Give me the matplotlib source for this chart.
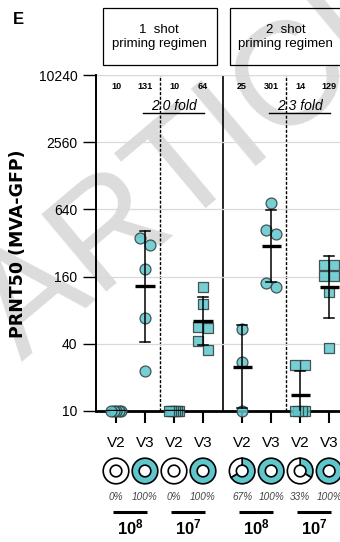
import numpy as np
import matplotlib
matplotlib.use('Agg')
import matplotlib.pyplot as plt
from matplotlib.patches import Wedge, Rectangle

plt.rcParams['font.family'] = ['Liberation Sans', 'DejaVu Sans']
plt.rcParams['mathtext.fontset'] = 'custom'
plt.rcParams['mathtext.rm'] = 'Liberation Sans'
plt.rcParams['mathtext.bf'] = 'Liberation Sans:bold'

# PRNT50 titers per group (V2 and V3 for each regimen / dose)
timepoints = ['V2', 'V3', 'V2', 'V3', 'V2', 'V3', 'V2', 'V3']
titers = [
    [10, 10, 10, 10, 10],
    [355, 306, 188, 68, 23],
    [10, 10, 10, 10, 10, 10],
    [129, 91, 57, 55, 42, 35],
    [54, 27.5, 10],
    [728, 417, 385, 140, 129],
    [26, 26, 10, 10, 10, 10],
    [203, 203, 162, 162, 116, 37],
]
gmt = [10, 131, 10, 64, 25, 301, 14, 129]
regimens = ['1  shot\npriming regimen', '2  shot\npriming regimen']
doses = ['10^{8}', '10^{7}', '10^{8}', '10^{7}']
yticks = [10, 40, 160, 640, 2560, 10240]
lod = 10

fill = '#5fc6cc'
edge = '#2f3b3c'

pos = np.array([0, 1, 2, 3, 4.35, 5.35, 6.35, 7.35])
markers = ['o', 'o', 's', 's', 'o', 'o', 's', 's']
px_per_x = 29.0            # pixels per x unit
px_per_log2 = 67.2 / 2     # pixels per doubling

fig = plt.figure(figsize=(3.4, 5.42), dpi=100)
ax = fig.add_axes([96/340, 1-411/542, (340-96)/340, (411-75)/542])

# light gray watermark behind everything
fig.text(22/340, 1-362/542, 'ARTICLE IN PRESS', rotation=40, rotation_mode='anchor',
         ha='left', va='baseline', fontsize=106, color='#dcdcdc', zorder=-10)
ax.patch.set_alpha(0)


def swarm(vals):
    # spread points that would overlap into rows centred on the column
    order = np.argsort(vals)[::-1]
    v = np.array(vals, float)[order]
    y = np.log2(v) * px_per_log2
    rows, cur = [], [0]
    for i in range(1, len(v)):
        if abs(y[i] - y[cur[-1]]) < 10:
            cur.append(i)
        else:
            rows.append(cur)
            cur = [i]
    rows.append(cur)
    off = np.zeros(len(v))
    for r in rows:
        n = len(r)
        if n == 1:
            continue
        if v[r[0]] <= lod:
            step = 10.0 / (n - 1)
        else:
            step = 10.0
        for k, i in enumerate(r):
            off[i] = (k - (n - 1) / 2) * step
    return v, off / px_per_x


for i, vals in enumerate(titers):
    v, dx = swarm(vals)
    ax.scatter(pos[i] + dx[::-1], v[::-1], s=62, marker=markers[i], facecolor=fill,
               edgecolor=edge, linewidth=0.9, alpha=0.85, zorder=4, clip_on=False)
    lv = np.log(vals)
    gsd = np.exp(lv.std(ddof=1))
    g = gmt[i]
    if gsd > 1.001:
        ax.plot([pos[i], pos[i]], [g / gsd, g * gsd], color='black', lw=1.1, zorder=5)
        for e in (g / gsd, g * gsd):
            ax.plot([pos[i] - 0.18, pos[i] + 0.18], [e, e], color='black', lw=1.1, zorder=5)
    ax.plot([pos[i] - 0.33, pos[i] + 0.33], [g, g], color='black', lw=2.4, zorder=6,
            solid_capstyle='butt')

ax.set_yscale('log')
ax.set_ylim(10, 10240)
ax.set_xlim(pos[0] - 20/px_per_x, pos[0] + (340-116)/px_per_x)
ax.set_yticks(yticks)
ax.set_yticklabels([str(t) for t in yticks], fontsize=10)
ax.yaxis.set_minor_locator(matplotlib.ticker.NullLocator())
ax.tick_params(axis='y', length=9.5, width=1.0, pad=4)
ax.set_xticks(pos)
ax.set_xticklabels(timepoints, fontsize=11)
ax.tick_params(axis='x', length=8.5, width=1.5, pad=9.5)
for s in ['top', 'right']:
    ax.spines[s].set_visible(False)
ax.spines['left'].set_linewidth(1.4)
ax.spines['bottom'].set_linewidth(2.0)
ax.grid(axis='y', color='#d9d9d9', lw=0.9, zorder=0)
ax.axhline(10240, color='#d9d9d9', lw=0.9, zorder=0)
ax.set_ylabel('PRNT50 (MVA-GFP)', fontsize=12.5, fontweight='bold',
              family='DejaVu Sans')
ax.yaxis.set_label_coords(-0.283, 0.497)

# group separators
sep_solid = (pos[3] + pos[4]) / 2
ax.axvline(sep_solid, color='black', lw=1.2, zorder=1)
for a, b in [(1, 2), (5, 6)]:
    ax.axvline((pos[a] + pos[b]) / 2, color='black', lw=1.0, ls=(0, (2.2, 1.2)), zorder=1)

# GMT labels and fold change
for i in range(8):
    ax.text(pos[i], 0.967, str(gmt[i]), transform=ax.get_xaxis_transform(),
            ha='center', va='center', fontsize=6.5, fontweight='bold')
for a, b in [(1, 3), (5, 7)]:
    fold = gmt[a] / gmt[b]
    xm = (pos[a] + pos[b]) / 2
    ax.text(xm, 0.908, f'{fold:.1f} fold', transform=ax.get_xaxis_transform(),
            ha='center', va='center', fontsize=10, style='italic')
    ax.plot([pos[a] - 0.07, pos[b] + 0.03], [0.886, 0.886], transform=ax.get_xaxis_transform(),
            color='black', lw=1.0, clip_on=False)

# overlay in pixel units for everything outside the plot area
ov = fig.add_axes([0, 0, 1, 1], zorder=-1)
ov.set_xlim(0, 340)
ov.set_ylim(0, 542)
ov.axis('off')
ov.patch.set_alpha(0)


def xpx(x):
    return ax.transData.transform((x, lod))[0] * 340 / fig.bbox.width


fig.canvas.draw()
x_left = 96
x_solid = xpx(sep_solid)
x_right = x_solid + (x_solid - x_left)
for k, (l, r) in enumerate([(x_left, x_solid), (x_solid, x_right)]):
    ov.add_patch(Rectangle((l + 7, 542 - 65), (r - l) - 13, 57, fill=False,
                           edgecolor='black', lw=0.9, clip_on=False))
    ov.text((l + r) / 2, 542 - 37, regimens[k], ha='center', va='center',
            fontsize=9.5, linespacing=1.25)

# responder donuts
for i, vals in enumerate(titers):
    frac = np.mean(np.array(vals) > lod)
    cx, cy = xpx(pos[i]), 542 - 471
    ro, ri = 12.8, 5.8
    if frac > 0:
        ov.add_patch(Wedge((cx, cy), ro, 90 - 360 * frac, 90, width=ro - ri,
                           facecolor=fill, edgecolor='black', lw=1.2))
    if frac < 1:
        ov.add_patch(Wedge((cx, cy), ro, 90, 90 + 360 * (1 - frac), width=ro - ri,
                           facecolor='white', edgecolor='black', lw=1.2))
    ov.text(cx, 542 - 497, f'{round(frac * 100)}%', ha='center', va='center',
            fontsize=7.2, style='italic', color='#444444')

# dose bars
for j in range(4):
    a, b = xpx(pos[2 * j]), xpx(pos[2 * j + 1])
    ov.plot([a - 3, b + 2], [542 - 512, 542 - 512], color='black', lw=2.2,
            solid_capstyle='butt')
    ov.text((a + b) / 2, 542 - 527, rf'$\mathbf{{{doses[j]}}}$', ha='center', va='center',
            fontsize=12)

fig.text(18/340, 1-19/542, 'E', ha='center', va='center', fontsize=12, fontweight='bold')

fig.savefig('out.png', dpi=100)
